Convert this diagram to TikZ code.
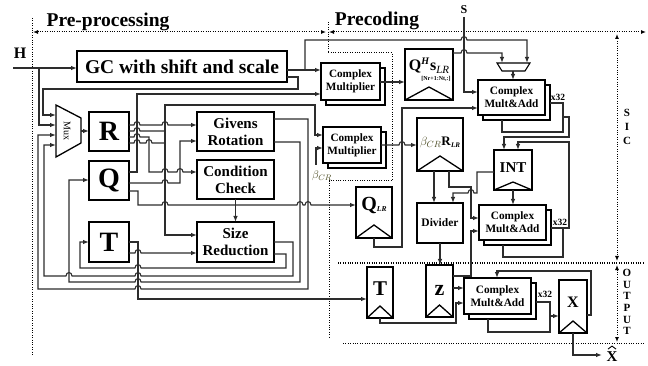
\documentclass[tikz,border=0pt]{standalone}
\usepackage{fontspec}
\setmainfont{Liberation Serif}
\usetikzlibrary{arrows.meta,calc}
\definecolor{lc}{RGB}{45,45,45}
\definecolor{betac}{RGB}{75,75,35}
\newcommand\hopr[2]{-- ({#1-3},#2) .. controls ({#1-3},{#2-4.5}) and ({#1+3},{#2-4.5}) .. ({#1+3},#2)}
\newcommand\hopl[2]{-- ({#1+3},#2) .. controls ({#1+3},{#2-4.5}) and ({#1-3},{#2-4.5}) .. ({#1-3},#2)}
\newcommand\fsz[1]{\fontsize{#1}{#1}\selectfont}
\newcommand\regtri[2]{\draw[line width=1.3pt] (#1.south west) -- ([yshift=#2pt]#1.south) -- (#1.south east);}
\tikzset{
  box/.style={draw=black, line width=1.4pt, fill=white, inner sep=0pt, outer sep=0pt, align=center, font=\bfseries},
  sbox/.style={draw=black, line width=1.4pt, fill=white, inner sep=0pt, outer sep=0pt, font=\bfseries},
  ln/.style={draw=lc, line width=1.1pt},
  arr/.style={ln, -{Latex[length=6pt,width=4.5pt]}},
  dots/.style={draw=black, line width=1pt, dash pattern=on 1pt off 1.4pt},
  darr/.style={dots, {Latex[length=5pt,width=4pt]}-{Latex[length=5pt,width=4pt]}},
  txt/.style={inner sep=0pt, outer sep=0pt, font=\bfseries},
}
\begin{document}
\begin{tikzpicture}[x=1pt,y=-1pt]
\useasboundingbox (0,0) rectangle (648,366);

% ---------- dotted frames ----------
\draw[dots] (32,18) -- (32,355);
\draw[darr] (33,32) -- (326,32);
\draw[darr] (329,32) -- (646,32);
\draw[dots] (328,22) -- (328,53) -- (392,53) -- (392,181) -- (329,181) -- (329,337);
\draw[dots] (338,263) -- (645,263);
\draw[dots] (343,343) -- (645,343);
\draw[darr] (617,34) -- (617,261);
\draw[darr] (617,265) -- (617,342);

% ---------- titles ----------
\node[txt, font=\bfseries\fsz{19.5}, anchor=base] (pre) at (108,27) {Pre-processing};
\node[txt, font=\bfseries\fsz{19.5}, anchor=base] (prec) at (377,26) {Precoding};
\node[txt, font=\bfseries\fsz{12}, anchor=base] (slab) at (464,14) {S};
\node[txt, font=\bfseries\fsz{16}, anchor=base] (hlab) at (20,59) {H};
\node[txt, align=center, font=\bfseries\fontsize{11}{14}\selectfont] (sic) at (627,127) {S\\I\\C};
\node[txt, align=center, font=\bfseries\fontsize{11}{11.6}\selectfont] (outl) at (627,302) {O\\U\\T\\P\\U\\T};

% ---------- pre-processing blocks ----------
\node[sbox, minimum width=210pt, minimum height=31pt, font=\bfseries\fsz{19.5}] (gc) at (182,66.5) {GC with shift and scale};
\node[sbox, minimum width=40pt, minimum height=39pt, font=\bfseries\fsz{28}] (R) at (109,131.5) {R};
\node[sbox, minimum width=40pt, minimum height=39pt, font=\bfseries\fsz{28}] (Q) at (109,180.5) {Q};
\node[sbox, minimum width=40pt, minimum height=40pt, font=\bfseries\fsz{28}] (T) at (109,242) {T};
\node[box, minimum width=77pt, minimum height=39pt, font=\bfseries\fontsize{15}{17}\selectfont] (giv) at (235.5,131.5) {Givens\\Rotation};
\node[box, minimum width=77pt, minimum height=39pt, font=\bfseries\fontsize{15}{17}\selectfont] (cond) at (235.5,179.5) {Condition\\Check};
\node[box, minimum width=77pt, minimum height=40pt, font=\bfseries\fontsize{15}{17}\selectfont] (sred) at (235.5,242) {Size\\Reduction};
\draw[line width=1.3pt, fill=white] (56,105) -- (81,118) -- (81,143) -- (56,157) -- cycle;
\node[rotate=-90, inner sep=0pt, font=\fsz{10}] (mux) at (67,131) {Mux};

% ---------- precoding blocks ----------
\node[box, minimum width=59pt, minimum height=37pt] (cm1b) at (355.5,86.5) {};
\node[box, minimum width=59pt, minimum height=37pt, font=\bfseries\fontsize{11.2}{13}\selectfont] (cm1) at (350.5,81.5) {Complex\\Multiplier};
\node[box, minimum width=58pt, minimum height=36pt] (cm2b) at (357,150) {};
\node[box, minimum width=58pt, minimum height=36pt, font=\bfseries\fontsize{11.2}{13}\selectfont] (cm2) at (352,145) {Complex\\Multiplier};

\node[sbox, minimum width=48pt, minimum height=51pt] (qhs) at (429,74.5) {};
\regtri{qhs}{13}
\node[txt, font=\fsz{16}] (qhst) at (429,66) {\textbf{Q}\raisebox{6pt}{\fsz{10}\itshape\bfseries H}\hspace{1pt}\textbf{s}\raisebox{-3pt}{\fsz{11}\itshape LR}};
\node[txt, font=\bfseries\fsz{6}] (qhsub) at (436,78.5) {[Nr+1:Nt,:]};

\node[sbox, minimum width=46pt, minimum height=53pt] (bcr) at (440,144.5) {};
\regtri{bcr}{15}
\node[txt, font=\fsz{13}] (bcrt) at (440,142) {{\color{betac}$\beta_{CR}$}\textbf{R}\raisebox{-2pt}{\fsz{7}\bfseries\itshape LR}};

\node[sbox, minimum width=36pt, minimum height=51pt] (qlr) at (374,212.5) {};
\regtri{qlr}{13}
\node[txt, font=\fsz{20}] (qlrt) at (374,206) {\textbf{Q}\raisebox{-1pt}{\fsz{7.5}\bfseries\itshape LR}};

\node[box, minimum width=67pt, minimum height=35pt] (cma1b) at (516.5,102.5) {};
\node[box, minimum width=67pt, minimum height=35pt, font=\bfseries\fontsize{11.3}{13}\selectfont] (cma1) at (511.5,97.5) {Complex\\Mult\&Add};
\draw[line width=1.1pt, fill=white] (497,63) -- (530,63) -- (525,71) -- (502,71) -- cycle;
\coordinate (smux) at (513,71);

\node[sbox, minimum width=38pt, minimum height=40pt] (int) at (513,170) {};
\regtri{int}{8}
\node[txt, font=\bfseries\fsz{15}] (intt) at (513,168) {INT};

\node[sbox, minimum width=46pt, minimum height=40pt, font=\bfseries\fsz{11.5}] (div) at (440,223) {Divider};

\node[box, minimum width=67pt, minimum height=35pt] (cma2b) at (517.5,227.5) {};
\node[box, minimum width=67pt, minimum height=35pt, font=\bfseries\fontsize{11.3}{13}\selectfont] (cma2) at (512.5,222.5) {Complex\\Mult\&Add};

\node[sbox, minimum width=26pt, minimum height=51pt] (tp) at (380,292.5) {};
\regtri{tp}{12}
\node[txt, font=\bfseries\fsz{21}] (tpt) at (380,289) {T};

\node[sbox, minimum width=27pt, minimum height=52pt] (z) at (439.5,291) {};
\regtri{z}{12}
\node[txt, font=\bfseries\fsz{22}] (zt) at (439.5,290) {z};

\node[box, minimum width=67pt, minimum height=36pt] (cma3b) at (502.5,301) {};
\node[box, minimum width=67pt, minimum height=36pt, font=\bfseries\fontsize{11.3}{13}\selectfont] (cma3) at (497.5,296) {Complex\\Mult\&Add};

\node[sbox, minimum width=28pt, minimum height=53pt] (X) at (573,306.5) {};
\regtri{X}{12}
\node[txt, font=\bfseries\fsz{16}] (Xt) at (573,302) {X};

\node[txt, font=\bfseries\fsz{9.5}] (x1) at (558,97) {x32};
\node[txt, font=\bfseries\fsz{9.5}] (x2) at (560,222) {x32};
\node[txt, font=\bfseries\fsz{9.5}] (x3) at (545,294) {x32};

% ---------- pre-processing connectors ----------
\coordinate (hin) at (13,68);
\draw[arr] (hin) -- (gc.west |- hin);
\draw[arr] (39,68) -- (39,125) -- (56,125);
\draw[arr] (gc.east |- 0,77) -- (298,77) -- (298,89) -- (43,89) -- (43,115) -- (56,115);
\draw[arr] (gc.east |- 0,70) -- (cm1.west |- 0,70);
\draw[arr] (81,131) -- (R.west |- 0,131);

\draw[arr] (Q.east |- 0,172) -- (137,172) -- (137,94) -- (cm1.west |- 0,94);
\draw[arr] (R.east |- 0,125) \hopr{137}{125} \hopr{165}{125} -- (giv.west |- 0,125);
\draw[ln] (R.east |- 0,131) \hopr{137}{131} -- (165,131);
\draw[arr] (R.east |- 0,137) \hopr{137}{137} -- (149,137) -- (149,172) \hopr{165}{172} \hopr{180}{172} -- (cond.west |- 0,172);
\draw[ln] (R.east |- 0,143) \hopr{137}{143} \hopr{149}{143} -- (165,143);
\draw[arr] (165,143) -- (165,105) -- (315,105) -- (315,135) -- (cm2.west |- 0,135);
\draw[arr] (165,131) -- (165,235) -- (sred.west |- 0,235);
\draw[arr] (Q.east |- 0,183) \hopr{165}{183} -- (180,183) -- (180,141) -- (giv.west |- 0,141);
\draw[arr] (Q.east |- 0,191) -- (138,191) -- (138,205) \hopr{165}{205} \hopr{300}{205} \hopr{308}{205} -- (qlr.west |- 0,205);
\draw[arr] (T.east |- 0,242) -- (138,242) -- (138,299) -- (tp.west |- 0,299);
\draw[arr] (T.east |- 0,253) \hopr{138}{253} -- (sred.west |- 0,253);
\draw[arr] (cond.south) -- (sred.north);
\draw[arr] (giv.east |- 0,119) -- (308,119) -- (308,289) \hopl{138}{289} -- (38,289) -- (38,135) -- (56,135);
\draw[arr] (giv.east |- 0,142) -- (300,142) -- (300,282) \hopl{138}{282} -- (69,282) -- (69,180) -- (Q.west |- 0,180);
\draw[arr] (sred.east |- 0,242) -- (293,242) -- (293,276) \hopl{138}{276} \hopl{69}{276} -- (44,276) -- (44,145) -- (56,145);
\draw[arr] (sred.east |- 0,254) -- (286,254) -- (286,268) \hopl{138}{268} -- (80,268) -- (80,242) -- (T.west |- 0,242);

% ---------- precoding connectors ----------
\draw[arr] (305,70) -- (305,40) \hopr{464}{40} -- (527,40) -- (527,63);
\draw[arr] (qhs.east |- 0,53) \hopr{464}{53} -- (502,53) -- (502,63);
\draw[arr] (464,17) -- (464,92) -- (cma1.west |- 0,92);
\draw[arr] (smux) -- (smux |- cma1.north);
\draw[arr] (cm1.east |- 0,82) -- (qhs.west |- 0,82);
\draw[arr] (qlr.south) -- (374,247) -- (402,247) -- (402,108) -- (cma1.west |- 0,108);
\draw[arr] (cm2.east |- 0,145) \hopr{402}{145} -- (bcr.west |- 0,145);
\coordinate (bsrc) at (316,165);
\draw[arr] (bsrc) -- (316,148) -- (cm2.west |- 0,148);
\node[inner sep=0pt, font=\fsz{11}, text=betac] (betal) at (322,176) {$\beta_{CR}$};

\draw[arr] ([xshift=-6pt]bcr.south) -- ([xshift=-6pt]bcr.south |- div.north);
\draw[arr] ([xshift=9pt]bcr.south) -- (449,187) -- (471,187) -- (471,218) -- (cma2.west |- 0,218);
\draw[arr] (int.west |- 0,172) -- (477,172) -- (477,193) \hopl{471}{193} -- (453,193) -- (div.north -| 453,0);
\draw[arr] (int.south) -- (int.south |- cma2.north);

\draw[ln] (550,103) -- (563,103) -- (563,132) -- (502,132) -- (502,120);
\draw[arr] (563,117) -- (569,117) -- (569,137) -- (504,137) -- (int.north -| 504,0);
\draw[arr] (551,228) -- (569,228) -- (569,142) -- (518,142) -- (int.north -| 518,0);
\draw[ln] (563,228) -- (563,257) -- (503,257) -- (503,245);

\draw[arr] (div.south) -- (div.south |- z.north);
\draw[arr] (z.east |- 0,276) -- (471,276) -- (471,231) -- (cma2.west |- 0,231);
\draw[arr] (z.east |- 0,288) -- (cma3.west |- 0,288);
\draw[arr] (tp.south) -- (380,323) -- (456,323) -- (456,303) -- (cma3.west |- 0,303);
\draw[ln] (536,302) -- (550,302) -- (550,332) -- (488,332) -- (488,319);
\draw[arr] (550,316) -- (X.west |- 0,316);
\draw[arr] (X.east |- 0,315) -- (591,315) -- (591,271) -- (497,271) -- (cma3.north -| 497,0);
\coordinate (xo) at (602,355);
\draw[arr] (X.south) -- (X.south |- xo) -- (xo);
\node[txt, font=\bfseries\fsz{15}] (xhat) at (612,357) {X};
\draw[line width=0.9pt] ([xshift=-4pt,yshift=3pt]xhat.north) -- ([yshift=6pt]xhat.north) -- ([xshift=4pt,yshift=3pt]xhat.north);
\end{tikzpicture}
\end{document}
